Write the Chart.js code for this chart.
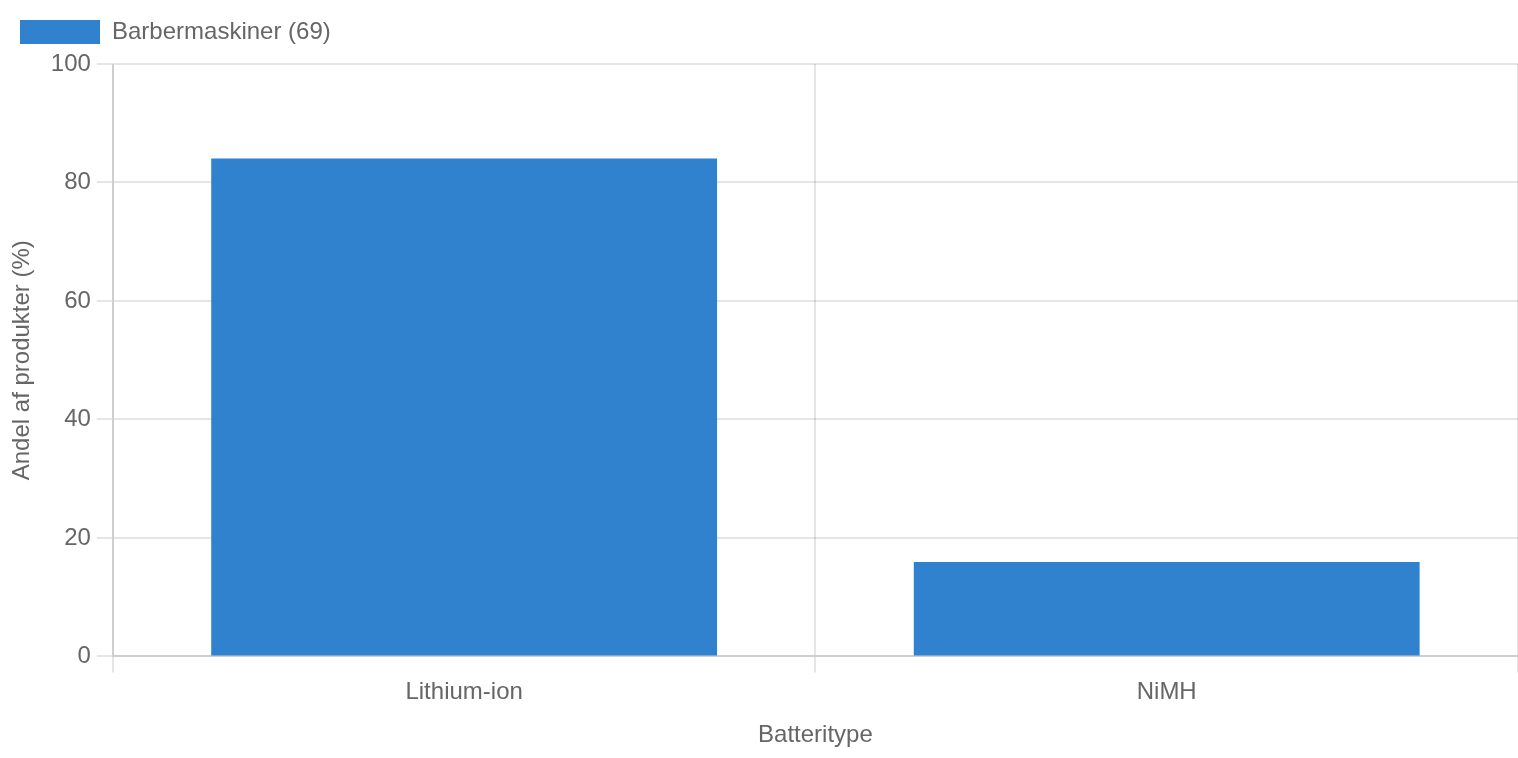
<!DOCTYPE html>
<html>
<head>
<meta charset="utf-8">
<script src="https://cdn.jsdelivr.net/npm/chart.js@4/dist/chart.umd.min.js"></script>
<style>
  html, body { margin: 0; padding: 0; background: #fff; }
  #wrap { width: 1518px; height: 758px; }
</style>
</head>
<body>
<div id="wrap"><canvas id="batteryChart"></canvas></div>
<script>
// Batterityper i barbermaskiner - andel af produkter
const categories = ['Lithium-ion', 'NiMH'];
const shareValues = [84.06, 15.94];
const seriesLabel = 'Barbermaskiner (69)';
const yTicks = [0, 20, 40, 60, 80, 100];

Chart.defaults.font.family = '"Liberation Sans", Arial, Helvetica, sans-serif';
Chart.defaults.font.size = 24;
Chart.defaults.color = '#666';

// lidt ekstra luft under legenden
const legendSpacing = {
    id: 'legendSpacing',
    beforeInit(chart) {
        const origFit = chart.legend.fit;
        chart.legend.fit = function () {
            origFit.bind(chart.legend)();
            this.height += 10;
        };
    }
};

const ctx = document.getElementById('batteryChart').getContext('2d');
new Chart(ctx, {
    type: 'bar',
    data: {
        labels: categories,
        datasets: [{
            label: seriesLabel,
            data: shareValues,
            backgroundColor: '#3182ce',
            borderWidth: 0
        }]
    },
    options: {
        responsive: true,
        maintainAspectRatio: false,
        animation: false,
        plugins: {
            legend: {
                position: 'top',
                align: 'start',
                labels: { boxWidth: 80, boxHeight: 24, padding: 20, color: '#666' }
            },
            tooltip: { enabled: false }
        },
        scales: {
            x: {
                title: { display: true, text: 'Batteritype', padding: { top: 8, bottom: 8 } },
                grid: { color: 'rgba(0,0,0,0.1)', lineWidth: 2, tickLength: 16 },
                border: { color: 'rgba(0,0,0,0.1)', width: 2 },
                ticks: { padding: 6 }
            },
            y: {
                min: 0,
                max: yTicks[yTicks.length - 1],
                title: { display: true, text: 'Andel af produkter (%)', padding: { top: 8, bottom: 8 } },
                grid: { color: 'rgba(0,0,0,0.1)', lineWidth: 2, tickLength: 16 },
                border: { color: 'rgba(0,0,0,0.1)', width: 2 },
                ticks: { stepSize: yTicks[1] - yTicks[0], padding: 6 }
            }
        }
    },
    plugins: [legendSpacing]
});
</script>
</body>
</html>
